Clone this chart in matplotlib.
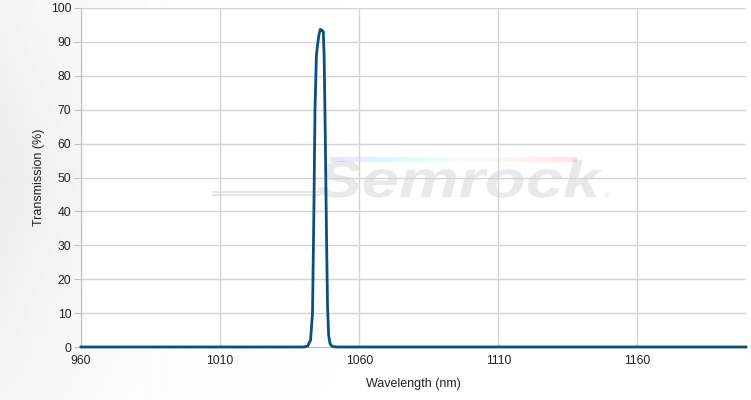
import numpy as np
import matplotlib
matplotlib.use('Agg')
import matplotlib.pyplot as plt
from matplotlib.textpath import TextPath
from matplotlib.patches import PathPatch
from matplotlib.font_manager import FontProperties
from matplotlib.transforms import Affine2D

plt.rcParams['font.family'] = ['Liberation Sans', 'DejaVu Sans']

# filter transmission curve
wavelength = [960, 1040, 1041.5, 1042.5, 1043.2, 1043.7, 1044.1, 1044.6, 1045.0, 1045.5,
              1046.0, 1046.6, 1047.1, 1047.4, 1047.8, 1048.2, 1048.6, 1049.0, 1049.5,
              1050.2, 1051.7, 1199]
transmission = [0, 0, 0.3, 2, 10, 40, 70, 86, 89, 92,
                93.7, 93.4, 93, 85, 62, 35, 12, 3.5, 1,
                0.2, 0, 0]
xticks = [960, 1010, 1060, 1110, 1160]
yticks = list(range(0, 101, 10))

fig = plt.figure(figsize=(7.51, 4.0), dpi=100)

# grey fading background (darker at left edge)
bg = fig.add_axes([0, 0, 1, 1], zorder=-10)
xx = np.linspace(0, 751, 400)
yy = np.linspace(0, 400, 200)
X, Y = np.meshgrid(xx, yy)
shade = 1 - 0.075 * np.exp(-X / 140) * (1 - 0.5 * np.abs(Y - 180) / 220)
bg.imshow(shade, aspect='auto', cmap='gray', vmin=0, vmax=1, extent=[0, 1, 0, 1])
bg.axis('off')

ax = fig.add_axes([81/751, 53/400, 665/751, 339/400])
ax.set_facecolor('white')

# watermark logo, stretched to fill its box
tp = TextPath((0, 0), 'Semrock', size=1,
              prop=FontProperties(family='Liberation Sans', weight='bold', style='italic'))
ext = tp.get_extents()
x0, x1, y0, y1 = 0.356, 0.785, 0.442, 0.552
tr = Affine2D().translate(-ext.x0, 0).scale((x1 - x0) / ext.width, (y1 - y0) / 0.72).translate(x0, y0)
ax.add_patch(PathPatch(tr.transform_path(tp), transform=ax.transAxes, color='#e9e9e9', lw=0, zorder=0))
ax.text(0.787, 0.44, '®', transform=ax.transAxes, fontsize=6, color='#e6e6e6', zorder=0)
ax.plot([0.198, 0.36], [0.457, 0.457], transform=ax.transAxes, color='#e4e4e4', lw=1.3, zorder=0)
ax.plot([0.198, 0.36], [0.447, 0.447], transform=ax.transAxes, color='#e4e4e4', lw=1.3, zorder=0)
rain = plt.cm.rainbow(np.linspace(0, 1, 100))
rain[:, 3] = 0.12
ax.imshow(rain.reshape(1, -1, 4), extent=[0.375, 0.745, 0.545, 0.557], aspect='auto',
          transform=ax.transAxes, zorder=0)

ax.plot(wavelength, transmission, color='#0c4f7d', lw=2, zorder=3, clip_on=False)

ax.set_xlim(960, 1199)
ax.set_ylim(0, 100)
ax.set_xticks(xticks)
ax.set_yticks(yticks)
ax.grid(True, color='#d4d4d4', lw=1, zorder=1)
ax.set_axisbelow(True)
for s in ['top', 'right']:
    ax.spines[s].set_visible(False)
ax.spines['left'].set_color('#c0c0c0')
ax.spines['bottom'].set_color('#c0c0c0')
ax.tick_params(axis='x', length=0, pad=6, labelsize=8.7, labelcolor='#222222')
ax.tick_params(axis='y', length=5, color='#c0c0c0', pad=2, labelsize=8.7, labelcolor='#222222')
ax.set_xlabel('Wavelength (nm)', fontsize=9, color='#222222', labelpad=8)
ax.set_ylabel('Transmission (%)', fontsize=9, color='#222222', labelpad=4)

plt.savefig('out.png', dpi=100)
